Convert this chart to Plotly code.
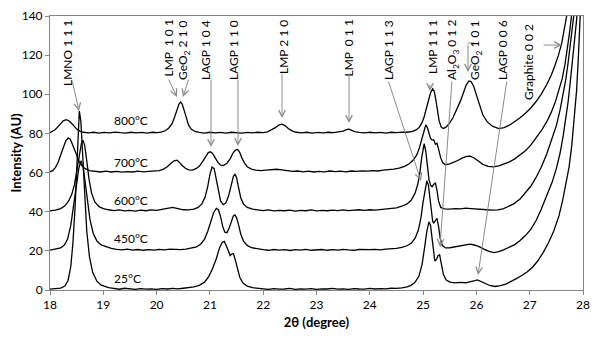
import plotly.graph_objects as go

# ---------------- data ----------------
x_25 = [18.00,18.10,18.20,18.28,18.34,18.39,18.43,18.47,18.51,18.55,18.58,18.61,18.65,18.69,18.74,18.80,18.88,18.96,
        19.10,19.20,19.30,19.40,19.50,19.60,19.70,19.80,19.90,20.00,20.10,20.20,20.30,20.40,20.50,20.60,20.70,20.80,20.90,
        20.98,21.05,21.12,21.18,21.23,21.27,21.31,21.35,21.38,21.41,21.44,21.47,21.51,21.56,21.62,21.70,21.80,21.90,
        22.0,22.1,22.2,22.3,22.4,22.5,22.6,22.7,22.8,22.9,23.0,23.1,23.2,23.3,23.4,23.5,23.6,23.7,23.8,23.9,24.0,24.1,
        24.2,24.3,24.4,24.5,24.6,24.7,24.78,24.85,24.92,24.98,25.03,25.07,25.11,25.14,25.17,25.20,25.22,25.25,25.28,25.31,
        25.34,25.38,25.43,25.5,25.6,25.7,25.8,25.9,25.97,26.02,26.08,26.15,26.25,26.35,26.45,26.55,26.65,26.75,26.85,
        26.95,27.05,27.15,27.25,27.35,27.45,27.55,27.62,27.68,27.74,27.79,27.84,27.88,27.91,27.94,27.96]
y_25 = [0.4,0.6,1.0,2.0,5,12,24,42,68,91.5,86,70,48,30,17,9,4.5,2.5,
        1.2,0.8,0.4,0.9,0.5,0.3,0.7,0.4,0.6,0.3,0.7,0.5,0.8,0.6,0.9,1.1,1.6,2.4,4.0,
        7,11,16,21.5,24.3,24.8,22.5,19,17.6,18.4,18.6,16,11,6.5,3.5,2.0,1.2,0.8,
        0.6,0.3,0.7,0.4,0.5,0.8,0.3,0.6,0.4,0.7,0.3,0.6,0.5,0.8,0.4,0.6,0.3,0.7,0.5,0.4,0.8,0.5,
        0.7,0.6,0.9,0.8,1.1,1.6,2.5,4.0,7,13,22,30,34.8,33,26,18,14.8,15.5,17.5,18,
        14,8,5.2,4.0,3.6,3.9,3.7,4.2,4.8,5.2,4.5,3.3,2.3,1.8,2.2,3.0,4.2,5.8,7.4,
        9.2,11.5,14.8,19,24,30,38,46,54,63,74,88,102,117,134,148]

x_450 = [18.00,18.10,18.20,18.27,18.33,18.39,18.44,18.49,18.54,18.58,18.62,18.66,18.70,18.75,18.81,18.88,18.96,
         19.05,19.15,19.25,19.35,19.45,19.55,19.65,19.75,19.85,19.95,20.05,20.15,20.25,20.35,20.45,20.55,20.65,20.75,
         20.83,20.90,20.96,21.02,21.07,21.12,21.16,21.20,21.24,21.28,21.32,21.36,21.40,21.44,21.47,21.50,21.54,21.58,
         21.63,21.70,21.78,21.88,22.0,22.1,22.2,22.3,22.4,22.5,22.6,22.7,22.8,22.9,23.0,23.1,23.2,23.3,23.4,23.5,23.6,
         23.7,23.8,23.9,24.0,24.1,24.2,24.3,24.4,24.5,24.6,24.7,24.78,24.85,24.91,24.96,25.00,25.04,25.07,25.10,25.13,
         25.16,25.18,25.20,25.23,25.26,25.29,25.32,25.36,25.42,25.5,25.6,25.7,25.8,25.88,25.96,26.05,26.15,26.25,26.33,
         26.42,26.52,26.62,26.72,26.82,26.92,27.02,27.12,27.22,27.32,27.42,27.50,27.57,27.63,27.68,27.72,27.76,27.80,
         27.84,27.88,27.91]
y_450 = [20.4,20.8,21.5,23,26,33,42,53,62,66,63,55,45,36,29,25,23,
         22,21.3,20.8,20.5,20.9,20.4,20.7,20.3,20.6,20.4,20.8,20.5,20.9,20.7,20.6,20.9,21.3,22.0,
         23.5,26,30,35,39.5,41.7,41,37.5,32.5,29.5,29.3,31.5,35,37.8,38.4,37,33,28.5,
         25,22.8,21.6,21,20.6,20.3,20.7,20.4,20.6,20.2,20.6,20.4,20.8,20.3,20.5,20.7,20.3,20.6,20.4,20.8,20.5,
         20.3,20.7,20.5,20.6,20.8,20.5,20.9,21.0,21.3,21.8,22.6,24,26.5,30.5,37,45,52,55.8,53.5,46,
         38.5,35,34.3,35.8,36.6,32.5,26.5,22.8,21.5,21.6,22.0,22.5,23.0,23.4,23.0,22.2,20.8,19.6,19.1,
         19.6,20.6,21.8,23.2,25.3,27.8,31,35.5,41.5,48,55,62,70,79,88,96,106,116,
         127,138,150]

x_600 = [18.00,18.10,18.20,18.28,18.35,18.41,18.46,18.51,18.55,18.59,18.62,18.65,18.69,18.73,18.78,18.84,18.92,
         19.0,19.1,19.2,19.3,19.4,19.5,19.6,19.7,19.8,19.9,20.0,20.1,20.2,20.3,20.4,20.5,20.6,20.7,20.78,20.85,20.91,
         20.96,21.00,21.04,21.08,21.12,21.16,21.20,21.25,21.30,21.35,21.40,21.44,21.47,21.50,21.54,21.58,21.63,21.70,
         21.8,21.9,22.0,22.1,22.2,22.3,22.4,22.5,22.6,22.7,22.8,22.9,23.0,23.1,23.2,23.3,23.4,23.5,23.6,23.7,23.8,23.9,
         24.0,24.1,24.2,24.3,24.4,24.5,24.6,24.7,24.78,24.85,24.90,24.94,24.97,25.00,25.02,25.05,25.08,25.11,25.14,
         25.17,25.20,25.23,25.26,25.29,25.33,25.4,25.5,25.6,25.7,25.8,25.9,26.0,26.1,26.2,26.3,26.4,26.5,26.6,26.7,
         26.82,26.92,27.02,27.12,27.22,27.32,27.42,27.50,27.57,27.63,27.68,27.72,27.76,27.80,27.84,27.87]
y_600 = [40.4,40.8,41.6,43,45.5,49,54,62,69.5,75,76.5,74,66,57,49.5,45,42.6,
         41.6,41.0,40.6,40.9,40.4,40.7,40.3,40.8,40.5,40.9,40.7,41.2,41.7,42.2,41.6,41.0,40.9,41.3,42.2,44,47.5,
         53,59,62.8,62,56,49.5,45.5,43.6,44.5,48,54,58,59.2,57.5,52,47,44,42.2,
         41.3,40.9,40.6,40.9,40.4,40.7,40.5,40.8,40.3,40.7,40.5,40.9,40.4,40.7,40.5,40.8,40.6,40.9,40.6,40.8,41.0,40.7,
         41.0,40.8,41.1,41.3,41.6,42.0,42.8,44,46,49.5,54,60,67,73.5,74.8,71,63,56.5,53.5,
         52.8,54,54.6,51,45.5,42.2,41.5,41.3,41.6,41.4,41.8,41.6,41.5,41.2,41.0,40.8,40.9,41.5,42.6,44.0,
         46.5,49.5,53,57.5,63,69.5,77,84,92,100,108,116,124,133,142,150]

x_700 = [18.00,18.05,18.10,18.15,18.20,18.25,18.30,18.34,18.38,18.42,18.46,18.50,18.55,18.60,18.66,18.74,18.84,18.95,
         19.05,19.15,19.25,19.35,19.45,19.55,19.65,19.75,19.85,19.95,20.05,20.13,20.20,20.27,20.33,20.38,20.43,20.48,
         20.54,20.60,20.67,20.74,20.80,20.86,20.92,20.97,21.01,21.05,21.10,21.15,21.20,21.26,21.32,21.38,21.43,21.48,
         21.52,21.56,21.60,21.65,21.70,21.78,21.86,21.95,22.05,22.15,22.25,22.35,22.45,22.55,22.65,22.75,22.85,22.95,
         23.05,23.15,23.25,23.35,23.45,23.55,23.65,23.75,23.85,23.95,24.05,24.15,24.25,24.35,24.45,24.55,24.65,24.74,
         24.82,24.88,24.93,24.97,25.01,25.05,25.08,25.11,25.14,25.17,25.20,25.23,25.26,25.29,25.33,25.37,25.42,25.50,
         25.58,25.66,25.74,25.82,25.88,25.95,26.03,26.12,26.22,26.32,26.42,26.52,26.62,26.72,26.82,26.92,27.02,27.12,
         27.22,27.32,27.40,27.48,27.55,27.61,27.66,27.70,27.74,27.78,27.81]
y_700 = [60.4,61,62.5,65,69,73,76.5,77.6,77,74.5,71.5,68.5,65.5,63.5,62,61,60.5,60.3,
         60.7,60.3,60.6,60.2,60.5,60.3,60.7,60.4,60.6,60.8,61.0,61.8,63,64.8,66,66.3,65.2,63.6,
         62.2,61.4,61.3,62,63.2,65.5,68.2,70.2,70.6,69.8,67.5,65.2,63.8,63.7,64.8,67,69.8,71.5,
         71.8,70.3,67.5,64.8,63.0,61.8,61.3,61.0,61.2,61.5,61.7,61.4,61.0,60.6,60.8,60.4,60.7,60.3,
         60.6,60.4,60.8,60.5,60.7,60.4,60.8,60.6,60.9,60.7,61.0,60.8,61.2,61.4,61.8,62.3,63.2,64.5,
         66.5,69,72.5,76.5,81,84.4,83,80,77.5,76.6,76.8,74.5,75,72,67.5,65,64,64.4,
         65.2,66.3,67.5,68.3,68.4,67.6,66,64.2,63.2,62.9,63.4,64.3,65.5,67,69,71.2,74,77.5,
         81.5,86,90.5,96,102,108,115,122,130,139,150]

x_800 = [18.00,18.05,18.10,18.15,18.20,18.25,18.30,18.35,18.40,18.45,18.50,18.56,18.63,18.72,18.82,18.92,19.02,19.12,
         19.22,19.32,19.42,19.52,19.62,19.72,19.82,19.92,20.02,20.10,20.17,20.23,20.29,20.34,20.38,20.42,20.45,20.48,
         20.52,20.56,20.60,20.65,20.72,20.80,20.90,21.0,21.1,21.2,21.3,21.4,21.5,21.6,21.7,21.8,21.9,22.0,22.08,22.15,
         22.22,22.29,22.35,22.41,22.47,22.54,22.62,22.72,22.82,22.92,23.02,23.12,23.22,23.32,23.42,23.50,23.56,23.61,
         23.66,23.72,23.8,23.9,24.0,24.1,24.2,24.3,24.4,24.5,24.6,24.7,24.8,24.87,24.93,24.98,25.02,25.06,25.10,25.14,
         25.18,25.21,25.24,25.27,25.30,25.34,25.38,25.43,25.49,25.56,25.63,25.70,25.76,25.81,25.86,25.90,25.95,26.00,
         26.06,26.12,26.20,26.30,26.42,26.52,26.62,26.72,26.82,26.92,27.02,27.12,27.22,27.32,27.40,27.47,27.54,27.60,
         27.65,27.70,27.74,27.77]
y_800 = [80.4,81,82,83.5,85.2,86.4,87,86.6,85.3,83.6,82.2,81.2,80.6,80.3,80.6,80.2,80.5,80.3,
         80.7,80.4,80.2,80.6,80.3,80.5,80.2,80.6,80.4,80.8,81.5,82.8,85,88.5,92,95,96,95,
         91.5,87.5,84.2,82.2,81.0,80.5,80.2,80.6,80.3,80.5,80.2,80.6,80.4,80.2,80.5,80.3,80.6,80.4,80.8,81.6,
         82.8,84.2,84.7,84,82.5,81.3,80.6,80.3,80.6,80.2,80.5,80.3,80.6,80.4,80.7,81.2,81.9,82.2,
         81.6,80.9,80.5,80.3,80.6,80.3,80.5,80.2,80.6,80.4,80.7,80.6,81.0,81.8,83.2,85.5,88.5,92.5,97,100.8,
         102.8,101.5,97,91.5,86.5,83.2,82.5,83.2,85,88,92,96.5,101,104.8,106.8,106.5,104,99.5,
         94,89.5,86,83.7,82.5,83,84.2,86,88,90.3,93,96.3,100.2,105,109.5,114.5,120,126,
         132.5,140,147,153]

series = [("25°C", x_25, y_25), ("450°C", x_450, y_450), ("600°C", x_600, y_600),
          ("700°C", x_700, y_700), ("800°C", x_800, y_800)]

# temperature labels: (text, y value at label centre)
temp_labels = ["800°C", "700°C", "600°C", "450°C", "25°C"]
temp_label_y = [86.7, 65.3, 45.9, 26.5, 6.1]

# peak labels
peak_labels = ["LMNO 1 1 1", "LMP  1 0 1", "GeO<sub>2</sub> 2 1 0", "LAGP 1 0 4", "LAGP 1 1 0",
               "LMP 2 1 0", "LMP  0 1 1", "LAGP 1 1 3", "LMP 1 1 1", "Al<sub>2</sub>O<sub>3</sub> 0 1 2",
               "GeO<sub>2</sub> 1 0 1", "LAGP 0 0 6", "Graphite 0 0 2"]

# ---------------- layout geometry ----------------
# the page body has an 8px default margin, so the figure is drawn 8px in from the window edge
OFF = 8
W, H = 592, 348
ML, MR, MT, MB = 42, 17, 8, 66
X0, X1, Y0, Y1 = 18, 28, 0, 140
PW, PH = W - ML - MR, H - MT - MB

def px2x(px):   # window pixel -> data x
    return X0 + (px - OFF - ML) / PW * (X1 - X0)

def px2y(py):   # window pixel -> data y
    return Y0 + (OFF + H - MB - py) / PH * (Y1 - Y0)

FONT = "Lato, 'Open Sans', sans-serif"
GRAY = "#868686"
ARROW = "#8a8a8a"

fig = go.Figure()
for name, xs, ys in series:
    fig.add_trace(go.Scatter(x=xs, y=ys, mode="lines", name=name,
                             line=dict(color="black", width=1.3),
                             showlegend=False, hoverinfo="skip"))

ann = []
# temperature labels
for t, yv in zip(temp_labels, temp_label_y):
    ann.append(dict(x=px2x(112), y=yv, xref="x", yref="y", text=t, showarrow=False,
                    xanchor="left", yanchor="middle", font=dict(size=12, color="black", family=FONT)))

# rotated peak labels: (centre x px, top y px) in window pixels
label_pos = [(67, 18), (168, 18), (183, 18), (205, 18), (233, 18), (283, 18), (348, 18),
             (388, 18), (432, 18), (452, 18), (475, 18), (502, 18), (528, 22)]
for t, (lx, ly) in zip(peak_labels, label_pos):
    ann.append(dict(x=px2x(lx), y=px2y(ly), xref="x", yref="y", text=t, showarrow=False,
                    textangle=-90, xanchor="center", yanchor="top",
                    font=dict(size=12, color="black", family=FONT)))

# arrows: (tip px x, tip px y, tail px x, tail px y) in window pixels
arrows = [(79, 111, 72, 80), (177, 97, 168, 78), (183, 97, 189, 78), (211, 147, 211, 78),
          (238, 146, 238, 78), (282, 118, 282, 72), (349, 123, 349, 72), (421, 181, 388, 80),
          (430, 91, 430, 83), (440, 247, 452, 80), (468, 72, 468, 43), (478, 275, 507, 80),
          (562, 45, 542, 45)]
for tx, ty, sx, sy in arrows:
    ann.append(dict(x=px2x(tx), y=px2y(ty), xref="x", yref="y", text="", showarrow=True,
                    ax=sx - tx, ay=sy - ty, arrowhead=5, arrowsize=1.3, arrowwidth=1,
                    arrowcolor=ARROW, standoff=0, startstandoff=0))

shapes = [dict(type="line", xref="x", yref="y", x0=px2x(468), x1=px2x(474), y0=px2y(43), y1=px2y(43),
               line=dict(color=ARROW, width=1))]

axis_common = dict(showline=True, linecolor=GRAY, linewidth=1, mirror=True, showgrid=False,
                   zeroline=False, ticks="outside", ticklen=4, tickcolor=GRAY,
                   tickfont=dict(size=12, color="black", family=FONT))

fig.update_layout(
    width=W, height=H, margin=dict(l=ML, r=MR, t=MT, b=MB, autoexpand=False),
    paper_bgcolor="white", plot_bgcolor="white",
    xaxis=dict(range=[X0, X1], tick0=18, dtick=1,
               title=dict(text="<b>2θ (degree)</b>", font=dict(size=13, color="black", family=FONT), standoff=6),
               **axis_common),
    yaxis=dict(range=[Y0, Y1], tick0=0, dtick=20,
               title=dict(text="<b>Intensity (AU)</b>", font=dict(size=13, color="black", family=FONT), standoff=6),
               **axis_common),
    annotations=ann, shapes=shapes,
)

fig.write_html("out.html")
